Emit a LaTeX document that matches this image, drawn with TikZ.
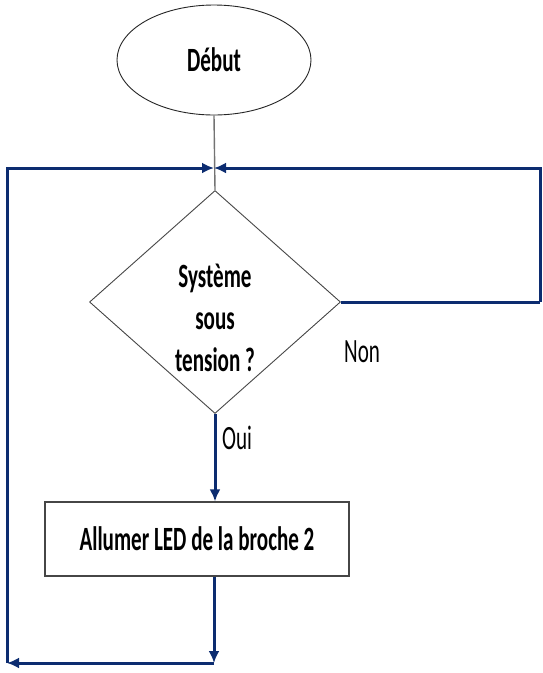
\documentclass[tikz,border=0pt]{standalone}
\usepackage{fontspec}
\setmainfont{Carlito}[FakeStretch=0.62]
\usepackage{tikz}
\usetikzlibrary{arrows.meta,positioning,calc,shapes.geometric}
\usepackage{xcolor}
\definecolor{cNavy}{RGB}{12,44,112}
\definecolor{cEdge}{RGB}{70,70,70}
\tikzset{
	startbox/.style={ellipse,draw=black!85,line width=0.9pt,fill=white,
		minimum width=194pt,minimum height=110pt,inner sep=0pt,
		font=\bfseries\fontsize{34}{40}\selectfont},
	testbox/.style={diamond,draw=cEdge,line width=0.9pt,fill=white,
		minimum width=251pt,minimum height=223pt,inner sep=0pt},
	actbox/.style={rectangle,draw=cEdge,line width=1.2pt,fill=white,
		minimum width=304pt,minimum height=74pt,inner sep=0pt,
		font=\bfseries\fontsize{34}{40}\selectfont},
	txtbold/.style={align=center,inner sep=0pt,
		font=\bfseries\fontsize{34}{42}\selectfont},
	lbl/.style={inner sep=0pt,font=\fontsize{34}{36}\selectfont},
	glink/.style={line width=1.4pt,draw=black!55},
	barr/.style={-{Latex[length=12pt,width=11pt]},line width=3pt,draw=cNavy},
	bline/.style={line width=3pt,draw=cNavy},
}
\begin{document}
\begin{tikzpicture}[x=1pt,y=-1pt]
	\useasboundingbox (0,0) rectangle (542,673);

	% Main column
	\node[startbox] at (214,60)   (debut) {Début};
	\node[testbox]  at (215,302)  (test)  {};
	\node[txtbold]  at (215,318)  (testtxt) {Système\\sous\\tension ?};
	\node[actbox]   at (197,539)  (act)   {Allumer LED de la broche 2};

	% Loop corners
	\coordinate (j)   at (214,168);
	\coordinate (cR)  at (540,302);
	\coordinate (cTR) at (540,168);
	\coordinate (cB)  at (214,663);
	\coordinate (cL)  at (7,663);

	% Start -> test
	\draw[glink] (debut.south) -- (test.north);

	% Oui branch
	\draw[barr] (test.south) -- (test.south |- act.north);
	\node[lbl,anchor=west] at (222,438) (oui) {Oui};

	% Non branch (back to top)
	\draw[bline] (test.east) -- (cR);
	\draw[barr] (cR) -- (cTR) -- (j);
	\node[lbl,anchor=west] at (344,352) (non) {Non};

	% Action -> back to top (left side)
	\draw[barr] (cB |- act.south) -- (cB);
	\draw[barr] (cB) -- (cL);
	\draw[barr] (cL) |- (j);
\end{tikzpicture}
\end{document}
